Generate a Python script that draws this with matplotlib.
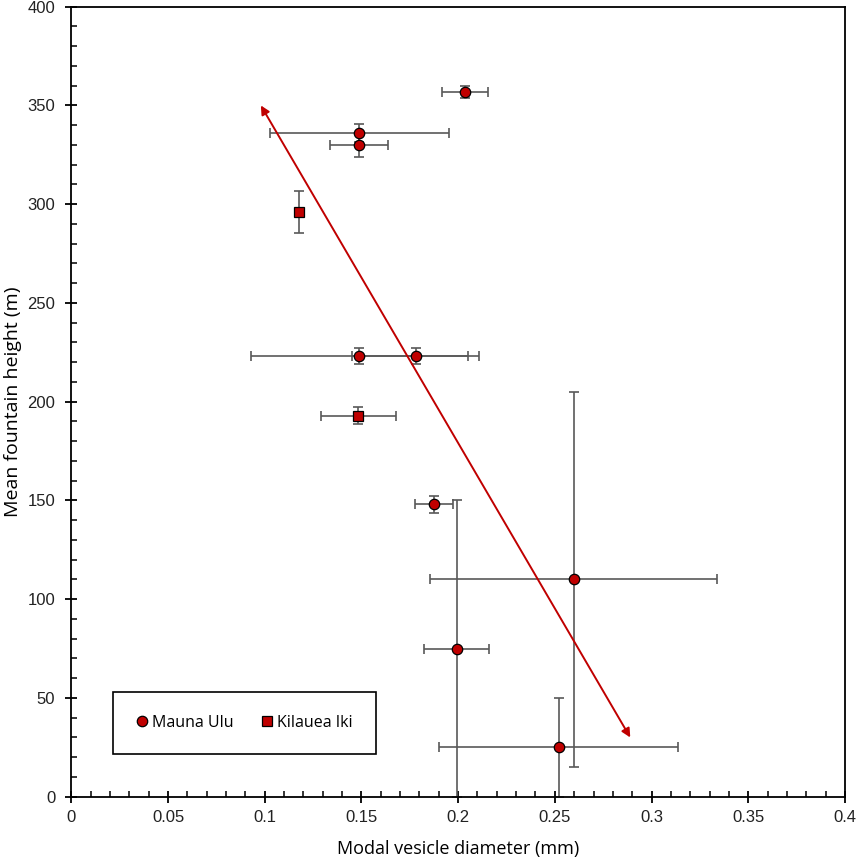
import numpy as np
import matplotlib
matplotlib.use('Agg')
import matplotlib.pyplot as plt
from matplotlib.ticker import MultipleLocator

# Mauna Ulu
mu_x = [0.2035, 0.149, 0.149, 0.149, 0.178, 0.1875, 0.1992, 0.2597, 0.2519]
mu_y = [357, 336, 330, 223, 223, 148, 75, 110, 25]
mu_xerr = [0.012, 0.0465, 0.015, 0.056, 0.033, 0.010, 0.017, 0.074, 0.062]
mu_yerr = [3, 4.5, 6, 4, 4, 4.5, 75, 95, 25]

# Kilauea Iki
ki_x = [0.1176, 0.1484]
ki_y = [296, 193]
ki_xerr = [np.nan, 0.0195]
ki_yerr = [10.5, 4.4]

# trend arrow (start, end)
arrow_x = [0.098, 0.289]
arrow_y = [350, 30]

red = '#C00000'
grey = '#595959'

fig = plt.figure(figsize=(8.58, 8.59), dpi=100)
ax = fig.add_axes([0.0831, 0.0725, 0.9017, 0.9197])

eb = dict(fmt='none', ecolor=grey, elinewidth=1.2, capsize=3.4, capthick=1.2, zorder=2)
ax.errorbar(mu_x, mu_y, xerr=mu_xerr, yerr=mu_yerr, **eb)
ax.errorbar(ki_x, ki_y, xerr=ki_xerr, yerr=ki_yerr, **eb)

ax.plot(mu_x, mu_y, 'o', ms=7.5, mfc=red, mec='black', mew=0.9, ls='none',
        label='Mauna Ulu', zorder=4)
ax.plot(ki_x, ki_y, 's', ms=7.2, mfc=red, mec='black', mew=0.9, ls='none',
        label='Kilauea Iki', zorder=4)

ax.annotate('', xy=(arrow_x[1], arrow_y[1]), xytext=(arrow_x[0], arrow_y[0]),
            arrowprops=dict(arrowstyle='<|-|>', color=red, lw=1.4,
                            mutation_scale=13, shrinkA=0, shrinkB=0), zorder=3)

ax.set_xlim(0, 0.4)
ax.set_ylim(0, 400)
ax.xaxis.set_major_locator(MultipleLocator(0.05))
ax.xaxis.set_minor_locator(MultipleLocator(0.01))
ax.yaxis.set_major_locator(MultipleLocator(50))
ax.yaxis.set_minor_locator(MultipleLocator(10))

def xfmt(v, pos):
    return ('%.2f' % v).rstrip('0').rstrip('.')
ax.xaxis.set_major_formatter(plt.FuncFormatter(xfmt))

for s in ax.spines.values():
    s.set_linewidth(1.3)
ax.tick_params(which='major', direction='inout', length=9, width=1.3,
               labelsize=12)
ax.tick_params(axis='x', which='major', pad=5)
ax.tick_params(axis='y', which='major', pad=7)
ax.tick_params(which='minor', direction='in', length=4, width=1.1)
for lab in ax.get_xticklabels() + ax.get_yticklabels():
    lab.set_fontfamily('Liberation Sans')
    lab.set_color('#222222')

ax.set_xlabel('Modal vesicle diameter (mm)', fontsize=13, family='Open Sans',
              labelpad=11)
ax.set_ylabel('Mean fountain height (m)', fontsize=14, family='Open Sans',
              labelpad=4)

leg = ax.legend(loc='center', bbox_to_anchor=(0.224, 0.0937), ncol=2,
                prop={'family': 'Open Sans', 'size': 11.5},
                frameon=True, fancybox=False, borderpad=1.45,
                handlelength=0.7, handletextpad=0.3, columnspacing=1.7,
                borderaxespad=0)
leg.get_frame().set_edgecolor('black')
leg.get_frame().set_linewidth(1.2)
leg.get_frame().set_alpha(1)

fig.savefig('out.png', dpi=100)
